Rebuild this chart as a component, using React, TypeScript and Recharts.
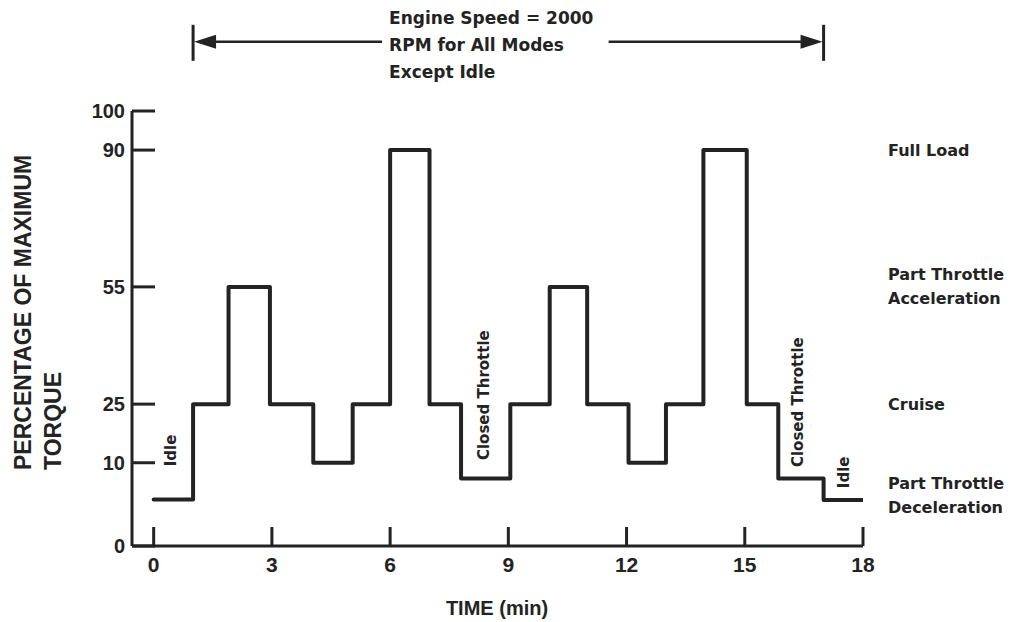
import React from 'react';
import { LineChart, Line, XAxis, YAxis, ReferenceLine, ReferenceDot, Label } from 'recharts';

// ---- Data ----
const stepTimes = [0, 1, 1.9, 2.95, 4.05, 5.05, 6, 7, 7.8, 9.05, 10.05, 11, 12.05, 13, 13.95, 15.05, 15.85, 17, 18];
const torqueLevels = [0.6, 25, 55, 25, 10, 25, 90, 25, 6, 25, 55, 25, 10, 25, 90, 25, 6, 0.5, 0.5];

const xTicks = [0, 3, 6, 9, 12, 15, 18];
// The drawn baseline (labelled "0") sits below the linear idle level in the original figure.
const yTickValues = [-11.3, 10, 25, 55, 90, 100];
const yTickLabels = ['0', '10', '25', '55', '90', '100'];

const rightLabelTexts = [['Full Load'], ['Part Throttle', 'Acceleration'], ['Cruise'], ['Part Throttle', 'Deceleration']];
const rightLabelLevels = [90, 55, 25, 1.5];

const modeLabelTexts = ['Idle', 'Closed Throttle', 'Closed Throttle', 'Idle'];
const modeLabelTimes = [0.43, 8.38, 16.35, 17.51];
const modeLabelLevels = [9.1, 10.7, 8.9, 3.5];

const speedNoteLines = ['Engine Speed = 2000', 'RPM for All Modes', 'Except Idle'];
const speedRange = [1, 17];
const speedNoteLevel = 117.7;

const data = stepTimes.map((t, i) => ({ t, v: torqueLevels[i] }));

const INK = '#232323';
const SANS = '"Liberation Sans", Arial, Helvetica, sans-serif';
const WIDE = '"DejaVu Sans", Verdana, sans-serif';

const YTick = (props: any) => {
  const { x, y, payload } = props;
  const idx = yTickValues.indexOf(payload.value);
  return (
    <g>
      <line x1={x} x2={x + 23} y1={y} y2={y} stroke={INK} strokeWidth={3} />
      <text x={x - 7} y={y} textAnchor="end" dominantBaseline="central" fontFamily={SANS} fontWeight="bold" fontSize={20} fill={INK}>
        {idx >= 0 ? yTickLabels[idx] : payload.value}
      </text>
    </g>
  );
};

const XTick = (props: any) => {
  const { x, y, payload } = props;
  return (
    <g>
      <line x1={x} x2={x} y1={y} y2={y - 19} stroke={INK} strokeWidth={3} />
      <text x={x} y={y + 18} textAnchor="middle" dominantBaseline="central" fontFamily={SANS} fontWeight="bold" fontSize={21} fill={INK}>
        {payload.value}
      </text>
    </g>
  );
};

const SpeedArrow = (props: any) => {
  const { x1, x2, y1 } = props;
  const y = y1;
  return (
    <g>
      <line x1={x1} x2={x1} y1={y - 17} y2={y + 19} stroke={INK} strokeWidth={3} />
      <line x1={x2} x2={x2} y1={y - 17} y2={y + 19} stroke={INK} strokeWidth={3} />
      <line x1={x1 + 10} x2={x1 + 189} y1={y} y2={y} stroke={INK} strokeWidth={2.5} />
      <line x1={x2 - 215} x2={x2 - 10} y1={y} y2={y} stroke={INK} strokeWidth={2.5} />
      <polygon points={`${x1 + 1},${y} ${x1 + 23},${y - 7} ${x1 + 23},${y + 7}`} fill={INK} />
      <polygon points={`${x2 - 1},${y} ${x2 - 23},${y - 7} ${x2 - 23},${y + 7}`} fill={INK} />
      {speedNoteLines.map((s, i) => (
        <text key={i} x={x1 + 196} y={y - 24 + i * 27} dominantBaseline="central" fontFamily={WIDE} fontWeight="bold" fontSize={17} fill={INK}>
          {s}
        </text>
      ))}
    </g>
  );
};

const makeRightLabel = (lines: string[]) => (props: any) => {
  const { cx, cy } = props;
  const n = lines.length;
  return (
    <g>
      {lines.map((s, i) => (
        <text key={i} x={cx + 25} y={cy + (i - (n - 1) / 2) * 24} dominantBaseline="central" fontFamily={WIDE} fontWeight="bold" fontSize={16} fill={INK}>
          {s}
        </text>
      ))}
    </g>
  );
};

const makeModeLabel = (s: string) => (props: any) => {
  const { cx, cy } = props;
  return (
    <text x={cx} y={cy} transform={`rotate(-90 ${cx} ${cy})`} textAnchor="start" dominantBaseline="central" fontFamily={WIDE} fontWeight="bold" fontSize={15} fill={INK}>
      {s}
    </text>
  );
};

const YTitle = (props: any) => {
  const vb = props.viewBox || { x: 72, y: 112, width: 60, height: 434 };
  const bottom = vb.y + vb.height - 76;
  const a = vb.x - 49.5;
  const b = vb.x - 19.5;
  return (
    <g>
      <text x={a} y={bottom} transform={`rotate(-90 ${a} ${bottom})`} textAnchor="start" dominantBaseline="central" fontFamily={SANS} fontWeight="bold" fontSize={23} fill={INK}>
        PERCENTAGE OF MAXIMUM
      </text>
      <text x={b} y={bottom} transform={`rotate(-90 ${b} ${bottom})`} textAnchor="start" dominantBaseline="central" fontFamily={SANS} fontWeight="bold" fontSize={23} fill={INK}>
        TORQUE
      </text>
    </g>
  );
};

const XTitle = (props: any) => {
  const vb = props.viewBox || { x: 132, y: 546, width: 731, height: 76 };
  return (
    <text x={vb.x + 365} y={vb.y + 62} textAnchor="middle" dominantBaseline="central" fontFamily={SANS} fontWeight="bold" fontSize={20} fill={INK}>
      TIME (min)
    </text>
  );
};

export default function App() {
  return (
    <div style={{ position: 'absolute', left: 0, top: 0, width: 1017, height: 622, background: '#fff' }}>
      <LineChart width={1017} height={622} data={data} margin={{ top: 111, right: 154, bottom: 0, left: 72 }}>
        <XAxis
          dataKey="t"
          type="number"
          domain={[-0.55, 18]}
          ticks={xTicks}
          allowDataOverflow
          height={76}
          tickSize={0}
          tickMargin={0}
          tickLine={false}
          axisLine={{ stroke: INK, strokeWidth: 3 }}
          tick={<XTick />}
          label={<Label content={<XTitle />} />}
        />
        <YAxis
          type="number"
          domain={[-11.3, 100]}
          ticks={yTickValues}
          allowDataOverflow
          width={60}
          tickSize={0}
          tickMargin={0}
          tickLine={false}
          axisLine={{ stroke: INK, strokeWidth: 3 }}
          tick={<YTick />}
          label={<Label content={<YTitle />} />}
        />
        <Line
          type="stepAfter"
          dataKey="v"
          stroke={INK}
          strokeWidth={4}
          strokeLinejoin="round"
          strokeLinecap="round"
          dot={false}
          activeDot={false}
          isAnimationActive={false}
        />
        <ReferenceLine
          segment={[{ x: speedRange[0], y: speedNoteLevel }, { x: speedRange[1], y: speedNoteLevel }]}
          ifOverflow="visible"
          shape={SpeedArrow}
        />
        {rightLabelTexts.map((lines, i) => (
          <ReferenceDot key={'r' + i} x={18} y={rightLabelLevels[i]} r={0} ifOverflow="visible" shape={makeRightLabel(lines)} />
        ))}
        {modeLabelTexts.map((s, i) => (
          <ReferenceDot key={'m' + i} x={modeLabelTimes[i]} y={modeLabelLevels[i]} r={0} ifOverflow="visible" shape={makeModeLabel(s)} />
        ))}
      </LineChart>
    </div>
  );
}
